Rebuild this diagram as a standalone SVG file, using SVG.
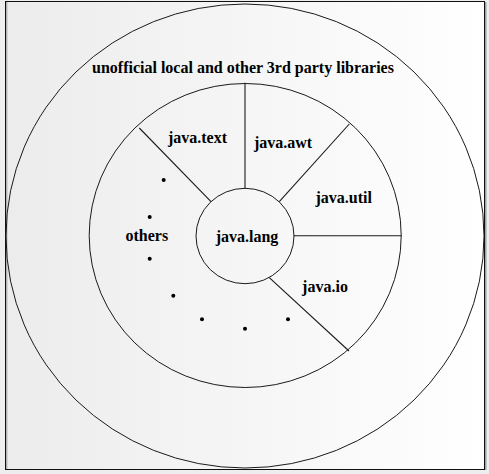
<svg xmlns="http://www.w3.org/2000/svg" width="489" height="474" viewBox="0 0 489 474">
<defs>
<linearGradient id="bg" x1="0" y1="0" x2="1" y2="0">
<stop offset="0" stop-color="#ececec"/>
<stop offset="1" stop-color="#ffffff"/>
</linearGradient>
</defs>
<style>
.ring{fill:none;stroke:#1a1a1a;stroke-width:1}
.sep{stroke:#1a1a1a;stroke-width:1.1}
.dot{fill:#000}
text{font-family:"Liberation Serif","Times New Roman",serif;font-size:16px;font-weight:bold;fill:#000;text-anchor:middle}
</style>
<rect x="0" y="0" width="489" height="474" fill="#eeeeee"/>
<rect x="5.5" y="1.5" width="479" height="468" fill="url(#bg)" stroke="#111" stroke-width="1"/>
<line x1="6.8" y1="2" x2="6.8" y2="469" stroke="#9a9a9a" stroke-width="1"/>
<line x1="485.8" y1="2" x2="485.8" y2="470" stroke="#9a9a9a" stroke-width="1.4"/>
<g id="outer">
<ellipse class="ring" cx="245" cy="236" rx="239" ry="232"/>
<text x="243" y="73">unofficial local and other 3rd party libraries</text>
</g>
<g id="middle">
<ellipse class="ring" cx="245.2" cy="235.5" rx="156" ry="152"/>
</g>
<g id="connectors">
<line class="sep" x1="245" y1="82.7" x2="245" y2="188.3"/>
<line class="sep" x1="293.7" y1="235.7" x2="401.7" y2="235.7"/>
<line class="sep" x1="349.3" y1="124" x2="279.3" y2="201.7"/>
<line class="sep" x1="139.3" y1="128" x2="211" y2="201.7"/>
<line class="sep" x1="269.3" y1="277.7" x2="349" y2="351"/>
</g>
<g id="java-lang">
<ellipse class="ring" cx="245" cy="236" rx="49" ry="47.7"/>
<text x="247" y="241.5">java.lang</text>
</g>
<g id="java-text"><text x="197.5" y="143">java.text</text></g>
<g id="java-awt"><text x="283" y="148">java.awt</text></g>
<g id="java-util"><text x="343.7" y="203">java.util</text></g>
<g id="java-io"><text x="325" y="291.7">java.io</text></g>
<g id="others">
<text x="146.8" y="240.5">others</text>
<circle class="dot" cx="163.7" cy="180" r="2"/>
<circle class="dot" cx="149.7" cy="217" r="2"/>
<circle class="dot" cx="149.7" cy="258.7" r="2"/>
<circle class="dot" cx="173.3" cy="295.7" r="2"/>
<circle class="dot" cx="202" cy="319.3" r="2"/>
<circle class="dot" cx="245" cy="328.7" r="2"/>
<circle class="dot" cx="288" cy="319.3" r="2"/>
</g>
</svg>
